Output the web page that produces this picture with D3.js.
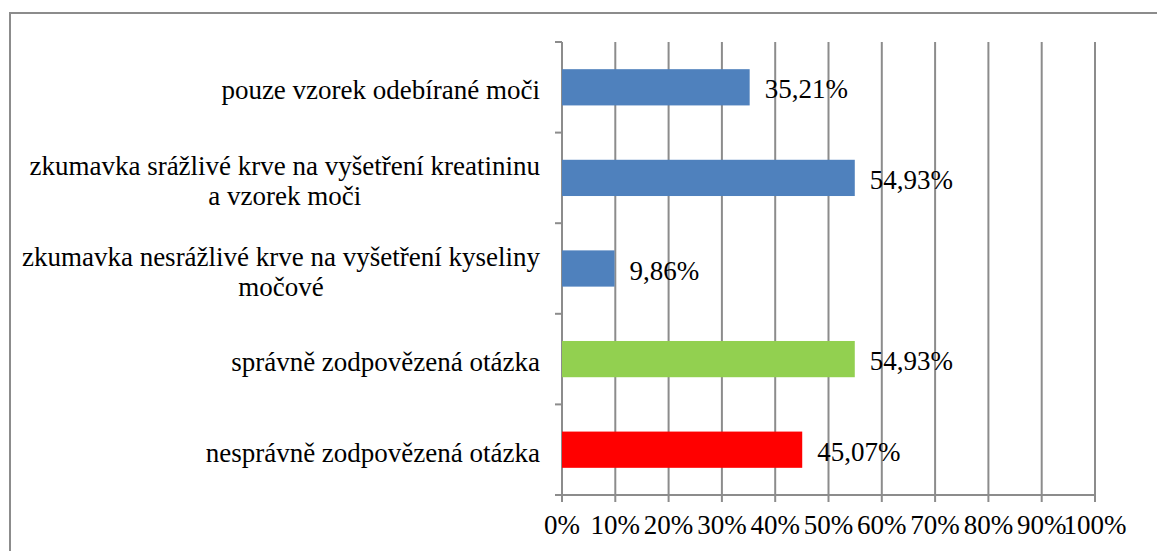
<!DOCTYPE html>
<html>
<head>
<meta charset="utf-8">
<script src="https://cdn.jsdelivr.net/npm/d3@7"></script>
</head>
<body style="margin:0">
<div id="chart"></div>
<script>
// categories, top to bottom (each entry = lines of the label)
const categories = [
  ["pouze vzorek odebírané moči"],
  ["zkumavka srážlivé krve na vyšetření kreatininu", "a vzorek moči"],
  ["zkumavka nesrážlivé krve na vyšetření kyseliny", "močové"],
  ["správně zodpovězená otázka"],
  ["nesprávně zodpovězená otázka"]
];
const values = [35.21, 54.93, 9.86, 54.93, 45.07];
const valueLabels = ["35,21%", "54,93%", "9,86%", "54,93%", "45,07%"];
const barColors = ["#4f81bd", "#4f81bd", "#4f81bd", "#92d050", "#ff0000"];
const xTicks = [0, 10, 20, 30, 40, 50, 60, 70, 80, 90, 100];

const W = 1157, H = 551;
const margin = {top: 42, right: 62, bottom: 56, left: 562};
const width = W - margin.left - margin.right,
  height = H - margin.top - margin.bottom;
const fontSize = 27;
const fontFamily = "Liberation Serif";
const gridColor = "#8c8c8c";

const root = d3.select("#chart").append("svg")
  .attr("width", W)
  .attr("height", H)
  .attr("font-family", fontFamily)
  .attr("font-size", fontSize);

// outer chart border (runs off the right and bottom edges)
root.append("rect")
  .attr("x", 10).attr("y", 13)
  .attr("width", W + 20).attr("height", H + 20)
  .attr("fill", "none")
  .attr("stroke", gridColor)
  .attr("stroke-width", 2);

const svg = root.append("g")
  .attr("transform", `translate(${margin.left},${margin.top})`);

let x = d3.scaleLinear().domain([0, 100]).range([0, width]);
let y = d3.scaleBand()
  .domain(d3.range(categories.length))
  .range([0, height])
  .paddingInner(0.6)
  .paddingOuter(0.3);
const step = y.step();

// vertical grid lines
svg.selectAll("line.grid").data(xTicks).enter()
  .append("line")
  .attr("class", "grid")
  .attr("x1", d => x(d)).attr("x2", d => x(d))
  .attr("y1", 0).attr("y2", height + 7)
  .attr("stroke", gridColor)
  .attr("stroke-width", 2);

// x axis line + labels
svg.append("line")
  .attr("x1", -7).attr("x2", width)
  .attr("y1", height).attr("y2", height)
  .attr("stroke", gridColor).attr("stroke-width", 2);

svg.selectAll("text.xtick").data(xTicks).enter()
  .append("text")
  .attr("class", "xtick")
  .attr("x", d => x(d))
  .attr("y", height + 39)
  .attr("text-anchor", "middle")
  .text(d => d + "%");

// y axis line + ticks at band boundaries
svg.append("line")
  .attr("x1", 0).attr("x2", 0)
  .attr("y1", 0).attr("y2", height)
  .attr("stroke", gridColor).attr("stroke-width", 2);

svg.selectAll("line.ytick").data(d3.range(categories.length + 1)).enter()
  .append("line")
  .attr("class", "ytick")
  .attr("x1", -7).attr("x2", 0)
  .attr("y1", d => d * step).attr("y2", d => d * step)
  .attr("stroke", gridColor).attr("stroke-width", 2);

// bars
svg.selectAll("rect.bar").data(values).enter()
  .append("rect")
  .attr("class", "bar")
  .attr("x", x(0))
  .attr("y", (d, i) => y(i))
  .attr("width", d => x(d) - x(0))
  .attr("height", y.bandwidth())
  .attr("fill", (d, i) => barColors[i]);

// value labels
svg.selectAll("text.val").data(values).enter()
  .append("text")
  .attr("class", "val")
  .attr("x", d => x(d) + 15)
  .attr("y", (d, i) => y(i) + y.bandwidth() / 2 + 11)
  .text((d, i) => valueLabels[i]);

// category labels: block right aligned, lines centred within block
const lineH = 30;
categories.forEach(function(lines, i) {
  const g = svg.append("g");
  const cy = y(i) + y.bandwidth() / 2 + 12;
  const texts = lines.map(function(l, j) {
    return g.append("text")
      .attr("y", cy + (j - (lines.length - 1) / 2) * lineH)
      .attr("text-anchor", "middle")
      .text(l);
  });
  const blockW = d3.max(texts, t => t.node().getComputedTextLength());
  texts.forEach(t => t.attr("x", -22 - blockW / 2));
});
</script>
</body>
</html>
